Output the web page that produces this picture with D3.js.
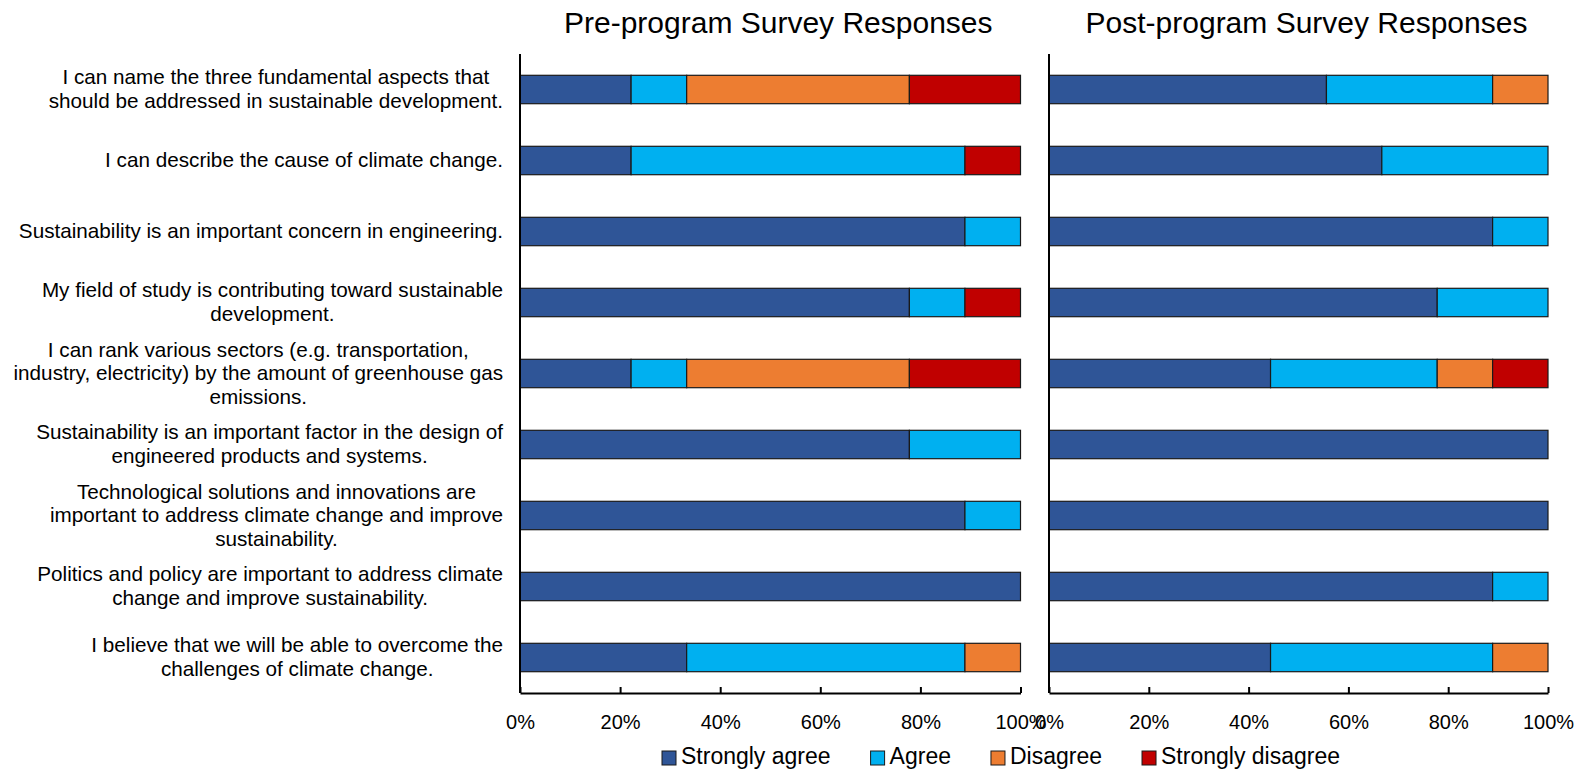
<!DOCTYPE html>
<html>
<head>
<meta charset="utf-8">
<script src="https://cdn.jsdelivr.net/npm/d3@7"></script>
<style>
  html, body { margin: 0; padding: 0; background: #fff; }
  svg { display: block; font-family: "Liberation Sans", Arial, sans-serif; }
</style>
</head>
<body>
<svg id="chart" width="1578" height="773"></svg>
<script>
// ---------- DATA ----------
const categories = [
  ["I can name the three fundamental aspects that", "should be addressed in sustainable development."],
  ["I can describe the cause of climate change."],
  ["Sustainability is an important concern in engineering."],
  ["My field of study is contributing toward sustainable", "development."],
  ["I can rank various sectors (e.g. transportation,", "industry, electricity) by the amount of greenhouse gas", "emissions."],
  ["Sustainability is an important factor in the design of", "engineered products and systems."],
  ["Technological solutions and innovations are", "important to address climate change and improve", "sustainability."],
  ["Politics and policy are important to address climate", "change and improve sustainability."],
  ["I believe that we will be able to overcome the", "challenges of climate change."]
];
const seriesNames = ["Strongly agree", "Agree", "Disagree", "Strongly disagree"];
const seriesColors = ["#2F5597", "#00B0F0", "#ED7D31", "#C00000"];

// Pre-program (% of respondents)
const preStronglyAgree    = [22.2, 22.2, 88.9, 77.8, 22.2, 77.8, 88.9, 100, 33.3];
const preAgree            = [11.1, 66.7, 11.1, 11.1, 11.1, 22.2, 11.1, 0, 55.6];
const preDisagree         = [44.5, 0, 0, 0, 44.5, 0, 0, 0, 11.1];
const preStronglyDisagree = [22.2, 11.1, 0, 11.1, 22.2, 0, 0, 0, 0];

// Post-program (% of respondents)
const postStronglyAgree    = [55.6, 66.7, 88.9, 77.8, 44.4, 100, 100, 88.9, 44.4];
const postAgree            = [33.3, 33.3, 11.1, 22.2, 33.4, 0, 0, 11.1, 44.5];
const postDisagree         = [11.1, 0, 0, 0, 11.1, 0, 0, 0, 11.1];
const postStronglyDisagree = [0, 0, 0, 0, 11.1, 0, 0, 0, 0];

const tickValues = [0, 20, 40, 60, 80, 100];
const titles = ["Pre-program Survey Responses", "Post-program Survey Responses"];

// ---------- LAYOUT ----------
const svg = d3.select("#chart");
const plotTop = 54, plotBottom = 693;
const panels = [
  { title: titles[0], x0: 520, x1: 1020.5, series: [preStronglyAgree, preAgree, preDisagree, preStronglyDisagree] },
  { title: titles[1], x0: 1049, x1: 1548, series: [postStronglyAgree, postAgree, postDisagree, postStronglyDisagree] }
];

const y = d3.scaleBand()
  .domain(d3.range(categories.length))
  .range([plotTop, plotBottom])
  .paddingInner(0.6)
  .paddingOuter(0.3);

const stack = d3.stack().keys(d3.range(seriesNames.length));

panels.forEach(p => {
  const x = d3.scaleLinear().domain([0, 100]).range([p.x0, p.x1]);
  const rows = categories.map((c, i) => p.series.map(s => s[i]));
  const stacked = stack(rows);
  const g = svg.append("g");

  stacked.forEach((layer, si) => {
    g.append("g").selectAll("rect")
      .data(layer.map((d, i) => ({ d, i })).filter(o => o.d[1] - o.d[0] > 0))
      .join("rect")
      .attr("x", o => x(o.d[0]))
      .attr("y", o => y(o.i))
      .attr("width", o => x(Math.min(100, o.d[1])) - x(o.d[0]))
      .attr("height", y.bandwidth())
      .attr("fill", seriesColors[si])
      .attr("stroke", "#1a1a1a")
      .attr("stroke-width", 1.2);
  });

  // bottom axis
  const ax = g.append("g")
    .attr("transform", `translate(0,${plotBottom})`)
    .call(d3.axisBottom(x).tickValues(tickValues).tickFormat(d => d + "%").tickSize(-6).tickSizeOuter(0));
  ax.select(".domain").attr("stroke", "#000").attr("stroke-width", 2);
  ax.selectAll(".tick line").attr("stroke", "#000").attr("stroke-width", 2);
  ax.selectAll(".tick text")
    .attr("y", 36).attr("dy", 0)
    .attr("font-size", "20px").attr("fill", "#000")
    .attr("font-family", "'Liberation Sans', Arial, sans-serif");

  // left axis line
  const ay = g.append("g")
    .attr("transform", `translate(${p.x0},0)`)
    .call(d3.axisLeft(y).tickSize(0).tickFormat("").tickSizeOuter(0));
  ay.select(".domain").attr("stroke", "#000").attr("stroke-width", 2)
    .attr("d", `M0,${plotTop}V${plotBottom}`);

  // title
  svg.append("text")
    .attr("x", (p.x0 + p.x1) / 2 + 8)
    .attr("y", 33)
    .attr("text-anchor", "middle")
    .attr("font-size", "30px")
    .attr("fill", "#000")
    .text(p.title);
});

// category labels: block right-aligned, lines centred within block
const labelRight = 503, lineH = 23.5, labelFont = 20.7;
categories.forEach((lines, i) => {
  const cy = y(i) + y.bandwidth() / 2;
  const gl = svg.append("g");
  const texts = lines.map((ln, k) => gl.append("text")
    .attr("font-size", labelFont + "px")
    .attr("fill", "#000")
    .attr("text-anchor", "middle")
    .attr("y", cy + (k - (lines.length - 1) / 2) * lineH + 6.5)
    .text(ln));
  const maxW = d3.max(texts, t => t.node().getComputedTextLength());
  texts.forEach(t => t.attr("x", labelRight - maxW / 2));
});

// legend
const legendBase = 764, sq = 14, textGap = 5, itemGap = 40;
const lg = svg.append("g");
let lx = 662;
seriesNames.forEach((name, i) => {
  lg.append("rect")
    .attr("x", lx).attr("y", legendBase - 13)
    .attr("width", sq).attr("height", sq)
    .attr("fill", seriesColors[i])
    .attr("stroke", "#1a1a1a").attr("stroke-width", 1);
  const t = lg.append("text")
    .attr("x", lx + sq + textGap).attr("y", legendBase)
    .attr("font-size", "23px").attr("fill", "#000")
    .text(name);
  lx += sq + textGap + t.node().getComputedTextLength() + itemGap;
});
</script>
</body>
</html>
